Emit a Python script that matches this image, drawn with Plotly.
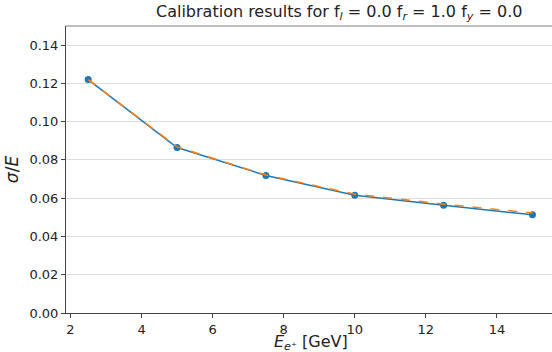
import plotly.graph_objects as go

energies = [2.5, 5.0, 7.5, 10.0, 12.5, 15.0]
resolution = [0.1220, 0.0865, 0.0719, 0.0615, 0.0563, 0.0513]
fit_values = [0.1220, 0.0868, 0.0721, 0.0621, 0.0569, 0.0523]
y_ticks = [0.00, 0.02, 0.04, 0.06, 0.08, 0.10, 0.12, 0.14]
x_ticks = [2, 4, 6, 8, 10, 12, 14]

font = "DejaVu Sans"
fig = go.Figure()
fig.add_trace(go.Scatter(x=energies, y=resolution, mode="lines+markers",
                         line=dict(color="#1f77b4", width=1.5),
                         marker=dict(color="#1f77b4", size=7)))
fig.add_trace(go.Scatter(x=energies, y=fit_values, mode="lines",
                         line=dict(color="#ff7f0e", width=1.5, dash="dash")))

fig.update_layout(
    width=552, height=352,
    margin=dict(l=66, r=0, t=26, b=39),
    paper_bgcolor="white", plot_bgcolor="white",
    showlegend=False,
    font=dict(family=font, size=13, color="#222"),
    xaxis=dict(range=[1.875, 15.55], tickvals=x_ticks, showgrid=False,
               showline=True, linecolor="#444", linewidth=1, mirror=False,
               ticks="outside", ticklen=4, tickcolor="#444",
               zeroline=False),
    yaxis=dict(range=[0, 0.15], tickvals=y_ticks, tickformat=".2f",
               showgrid=True, gridcolor="#dddddd", gridwidth=1,
               showline=True, linecolor="#444", linewidth=1,
               ticks="outside", ticklen=4, tickcolor="#444",
               zeroline=False,
               title=dict(text="<i>σ</i>/<i>E</i>", font=dict(size=17), standoff=6)),
)
fig.add_shape(type="line", xref="paper", yref="paper", x0=0, x1=1, y0=1, y1=1,
              line=dict(color="#aaaaaa", width=1.5))
fig.add_annotation(text="Calibration results for f<sub><i>l</i></sub> = 0.0 f<sub><i>r</i></sub> = 1.0 f<sub><i>y</i></sub> = 0.0",
                   xref="paper", yref="paper", x=(339 - 66) / 486, y=1, yanchor="bottom",
                   yshift=1, showarrow=False, font=dict(size=16, color="#222"))
fig.add_annotation(text="<i>E</i><sub><i>e</i>⁺</sub> [GeV]", xref="paper", yref="paper",
                   x=(311 - 66) / 486, y=0, yanchor="top", yshift=-17, showarrow=False,
                   font=dict(size=16, color="#222"))
fig.write_html("out.html")
